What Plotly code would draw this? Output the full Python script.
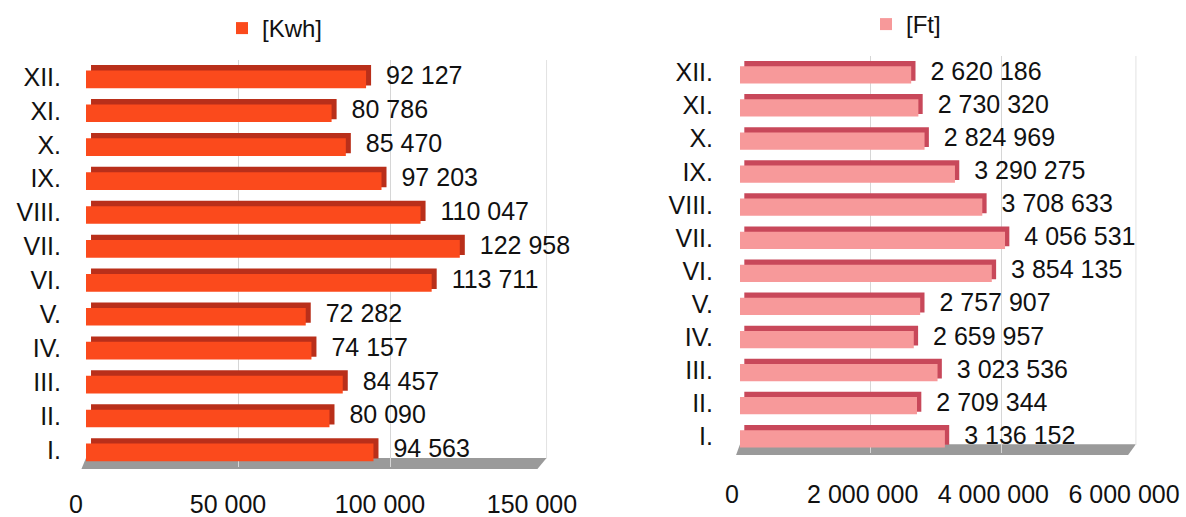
import plotly.graph_objects as go

# Monthly consumption and cost, January (I.) to December (XII.)
months = ["I.", "II.", "III.", "IV.", "V.", "VI.", "VII.", "VIII.", "IX.", "X.", "XI.", "XII."]
kwh = [94563, 80090, 84457, 74157, 72282, 113711, 122958, 110047, 97203, 85470, 80786, 92127]
ft = [3136152, 2709344, 3023536, 2659957, 2757907, 3854135, 4056531, 3708633, 3290275, 2824969, 2730320, 2620186]

kwh_ticks = [0, 50000, 100000, 150000]
ft_ticks = [0, 2000000, 4000000, 6000000]

FONT = "Liberation Sans, Arial, sans-serif"
W, H = 1186, 517

fig = go.Figure()


def add_bars(values, xa, ya, legend, name, face, side, rng):
    depth = rng * 0.011
    # darker body drawn behind, shifted up/right to suggest a 3D block
    fig.add_trace(go.Bar(
        y=months, x=values, base=[depth] * len(values), orientation="h",
        xaxis=xa, yaxis=ya, width=0.6, offset=-0.25,
        marker=dict(color=side, line=dict(width=0)),
        texttemplate="\u00a0\u2009%{x:,}", textposition="outside", cliponaxis=False,
        constraintext="none",
        textfont=dict(size=25, color="#111", family=FONT),
        showlegend=False, hoverinfo="skip",
    ))
    # front face of each bar
    fig.add_trace(go.Bar(
        y=months, x=values, orientation="h", name=name,
        xaxis=xa, yaxis=ya, width=0.52, offset=-0.33,
        marker=dict(color=face, line=dict(width=0)),
        legend=legend, showlegend=True,
    ))


add_bars(kwh, "x", "y", "legend", "[Kwh]", "#fb4a1c", "#b92f1a", 150000)
add_bars(ft, "x2", "y2", "legend2", "[Ft]", "#f7999a", "#c8485a", 6000000)

axis_common = dict(
    zeroline=False, showline=False, ticks="", automargin=False,
    tickfont=dict(size=25, color="#111", family=FONT),
)
xgrid = dict(showgrid=True, gridcolor="#d6d6d6", gridwidth=1)

fig.update_layout(
    width=W, height=H,
    margin=dict(l=0, r=0, t=0, b=0),
    paper_bgcolor="white", plot_bgcolor="white",
    barmode="overlay",
    separators=". ",
    font=dict(family=FONT, size=24, color="#111"),
    xaxis=dict(domain=[86 / W, 542 / W], range=[0, 150000], tickvals=kwh_ticks,
               tickformat=",", anchor="y", ticklabelstandoff=20, ticklabelshift=-10,
               **axis_common, **xgrid),
    yaxis=dict(domain=[1 - 467 / H, 1 - 60 / H], range=[-0.5, 11.5], anchor="x",
               categoryorder="array", categoryarray=months, showgrid=False,
               ticklabelstandoff=24, **axis_common),
    xaxis2=dict(domain=[740 / W, 1132 / W], range=[0, 6000000], tickvals=ft_ticks,
                tickformat=",", anchor="y2", ticklabelstandoff=24, ticklabelshift=-8,
                **axis_common, **xgrid),
    yaxis2=dict(domain=[1 - 453 / H, 1 - 56 / H], range=[-0.5, 11.5], anchor="x2",
                categoryorder="array", categoryarray=months, showgrid=False,
                ticklabelstandoff=26, **axis_common),
    legend=dict(x=222 / W, y=1 - 6 / H, xanchor="left", yanchor="top",
                font=dict(size=24, family=FONT, color="#111"), bgcolor="rgba(0,0,0,0)"),
    legend2=dict(x=866 / W, y=1 - 2 / H, xanchor="left", yanchor="top",
                 font=dict(size=24, family=FONT, color="#111"), bgcolor="rgba(0,0,0,0)"),
)

# grey floor slab under each chart, plus the faint back wall edge
for xd, yd in (("x domain", "y domain"), ("x2 domain", "y2 domain")):
    fig.add_shape(type="path", xref=xd, yref=yd,
                  path="M -0.01 -0.005 L 0.99 -0.005 L 1.01 0.022 L 0.0 0.022 Z",
                  fillcolor="#9a9a9a", line=dict(width=0), layer="below")
    fig.add_shape(type="line", xref=xd, yref=yd, x0=1.01, x1=1.01, y0=0.02, y1=1.0,
                  line=dict(color="#e2e2e2", width=1), layer="below")

fig.write_html("out.html")
